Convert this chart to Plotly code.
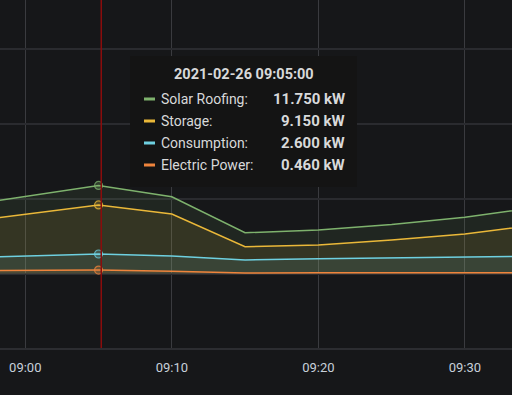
import plotly.graph_objects as go

# ---- data ----
times = ["2021-02-26 08:55:00", "2021-02-26 09:00:00", "2021-02-26 09:05:00",
         "2021-02-26 09:10:00", "2021-02-26 09:15:00", "2021-02-26 09:20:00",
         "2021-02-26 09:25:00", "2021-02-26 09:30:00", "2021-02-26 09:35:00"]
solar_roofing = [8.8, 10.3, 11.75, 10.24, 5.44, 5.8, 6.53, 7.49, 8.87]
storage = [6.64, 7.93, 9.15, 7.93, 3.57, 3.8, 4.47, 5.27, 6.5]
consumption = [2.05, 2.32, 2.6, 2.33, 1.8, 1.97, 2.1, 2.24, 2.3]
electric_power = [0.4, 0.42, 0.46, 0.29, 0.08, 0.1, 0.1, 0.12, 0.12]

series_names = ["Solar Roofing", "Storage", "Consumption", "Electric Power"]
series_values = [solar_roofing, storage, consumption, electric_power]
series_colors = ["#7eb26d", "#eab839", "#6ed0e0", "#ef843c"]
fill_colors = ["rgba(126,178,109,0.1)", "rgba(234,184,57,0.1)",
               "rgba(110,208,224,0.1)", "rgba(239,132,60,0.1)"]

hover_index = 2
hover_title = "2021-02-26 09:05:00"
cursor_time = "2021-02-26 09:05:11"
tick_vals = ["2021-02-26 09:00:00", "2021-02-26 09:10:00",
             "2021-02-26 09:20:00", "2021-02-26 09:30:00"]
tick_text = ["09:00", "09:10", "09:20", "09:30"]
x_range = ["2021-02-26 08:58:16.4", "2021-02-26 09:33:13"]
y_range = [-9.93, 36.47]

BG = "#161719"
TEXT = "#d8d9da"
W, H = 512, 395
PLOT_H = 348

fig = go.Figure()
for name, vals, col, fc in zip(series_names, series_values, series_colors, fill_colors):
    fig.add_trace(go.Scatter(x=times, y=vals, mode="lines", name=name,
                             line=dict(color=col, width=1.5),
                             fill="tozeroy", fillcolor=fc, showlegend=False,
                             hoverinfo="skip"))

# hover point markers
for vals, col in zip(series_values, series_colors):
    r, g, b = int(col[1:3], 16), int(col[3:5], 16), int(col[5:7], 16)
    fig.add_trace(go.Scatter(x=[times[hover_index]], y=[vals[hover_index]], mode="markers",
                             marker=dict(size=8, color=f"rgba({r},{g},{b},0.25)",
                                         line=dict(color=f"rgba({r},{g},{b},0.75)", width=1.2)),
                             showlegend=False, hoverinfo="skip"))

shapes = []
# cursor line
shapes.append(dict(type="line", xref="x", yref="paper", x0=cursor_time, x1=cursor_time,
                   y0=0, y1=1, line=dict(color="#8a0c0c", width=1.5), layer="above"))


def px(x):
    return x / W


def py(y):
    return 1 - y / PLOT_H


# tooltip box
shapes.append(dict(type="rect", xref="paper", yref="paper",
                   x0=px(130), x1=px(357), y0=py(56), y1=py(187),
                   fillcolor="#141414", line=dict(width=0), layer="above"))

annotations = [dict(xref="paper", yref="paper", x=px(244), y=py(74), text=f"<b>{hover_title}</b>",
                    showarrow=False, xanchor="center", yanchor="middle",
                    font=dict(family="Roboto", size=14.5, color=TEXT))]
row_y = [99, 121, 143, 165]
for name, vals, col, ry in zip(series_names, series_values, series_colors, row_y):
    shapes.append(dict(type="line", xref="paper", yref="paper", x0=px(144), x1=px(155),
                       y0=py(ry), y1=py(ry), line=dict(color=col, width=3), layer="above"))
    annotations.append(dict(xref="paper", yref="paper", x=px(159), y=py(ry), text=f"{name}:",
                            showarrow=False, xanchor="left", yanchor="middle",
                            font=dict(family="Roboto", size=14, color=TEXT)))
    annotations.append(dict(xref="paper", yref="paper", x=px(347), y=py(ry),
                            text=f"<b>{vals[hover_index]:.3f} kW</b>",
                            showarrow=False, xanchor="right", yanchor="middle",
                            font=dict(family="Roboto", size=15, color=TEXT)))

fig.update_layout(
    width=W, height=H,
    margin=dict(l=0, r=0, t=0, b=H - PLOT_H),
    paper_bgcolor=BG, plot_bgcolor=BG,
    shapes=shapes, annotations=annotations,
    xaxis=dict(type="date", range=x_range, tickvals=tick_vals, ticktext=tick_text,
               showgrid=True, gridcolor="#3a3b3f", gridwidth=1,
               showline=True, linecolor="#2c2d31", linewidth=2,
               ticks="", ticklabelstandoff=6,
               tickfont=dict(family="Roboto", size=13, color="#c7d0d9"),
               zeroline=False, fixedrange=True),
    yaxis=dict(range=y_range, dtick=10, tick0=0, showgrid=True, gridcolor="#2a2b2f",
               gridwidth=2, showticklabels=False, zeroline=False, ticks=""),
    font=dict(family="Roboto"),
)

fig.write_html("out.html")
